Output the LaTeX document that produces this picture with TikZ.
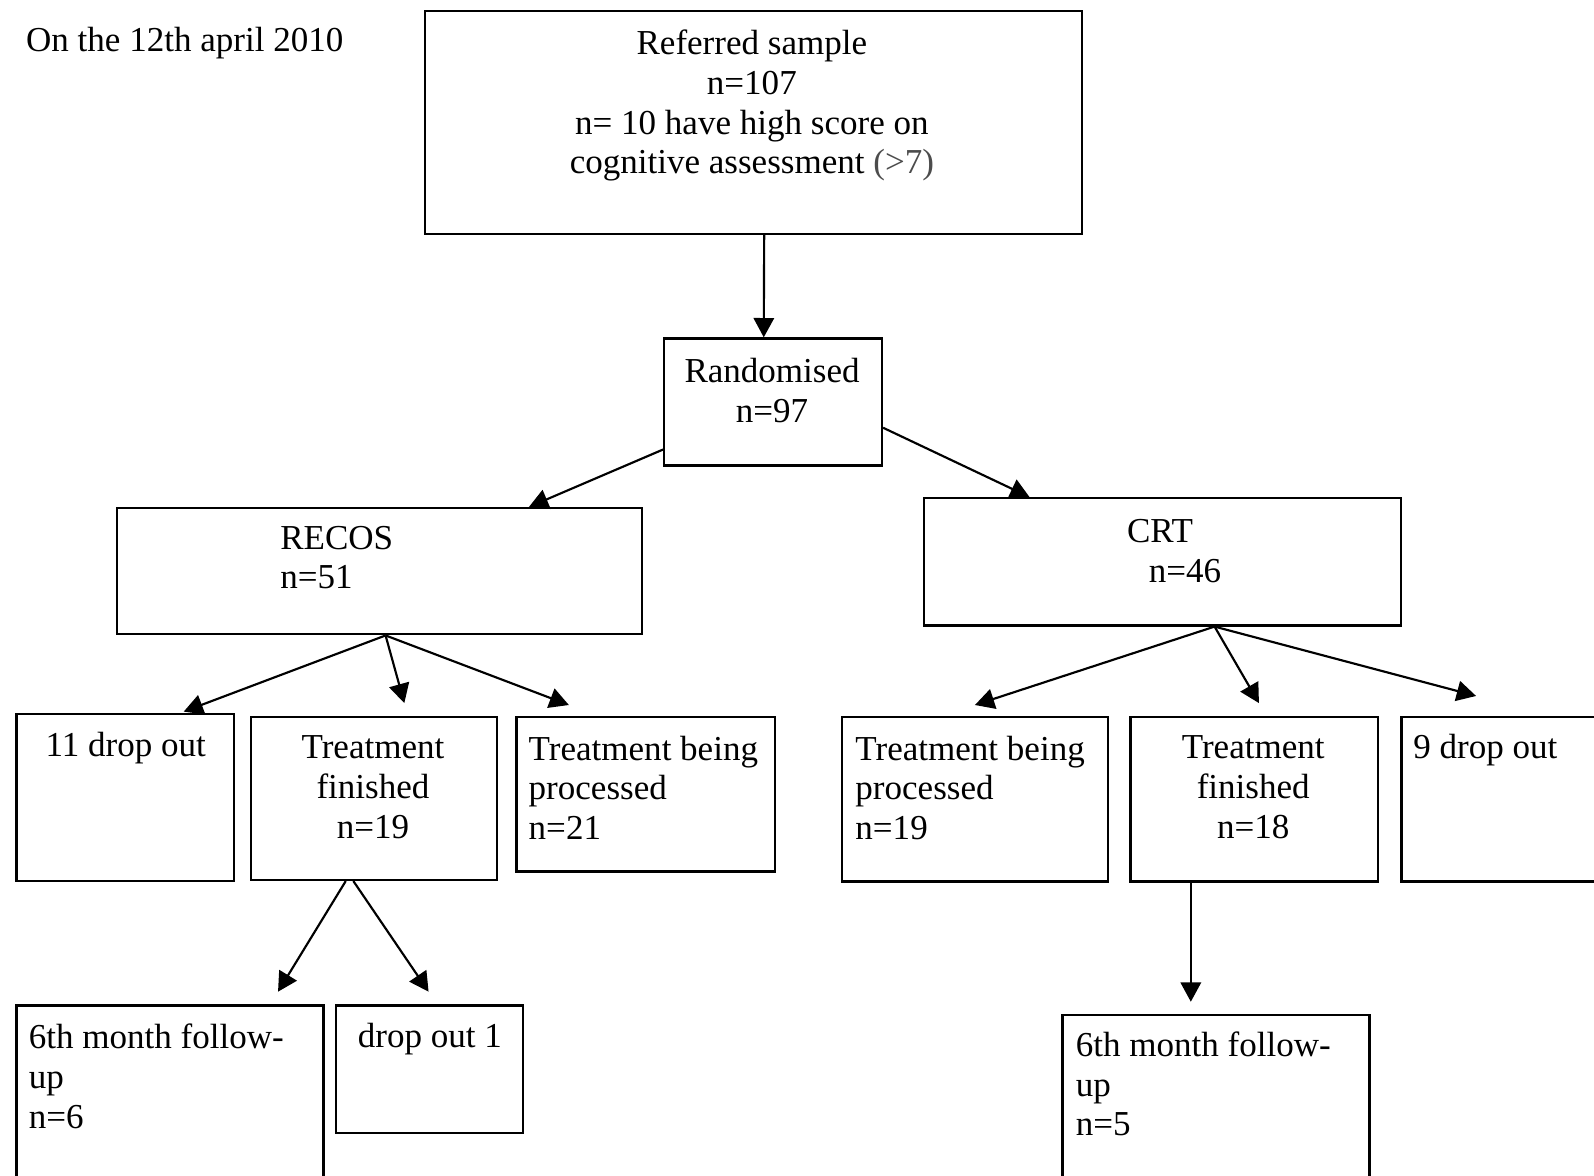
\documentclass[tikz,border=0pt]{standalone}
\usepackage{fontspec}
\setmainfont{Liberation Serif}
\usepackage{tikz}
\usetikzlibrary{arrows.meta, calc}

\begin{document}
\begin{tikzpicture}[x=0.01cm, y=-0.01cm,
        box/.style={draw, line width=0.65pt, anchor=north west, inner sep=0pt},
        txt/.style={inner sep=0pt, font=\fontsize{9.8pt}{11.1pt}\selectfont},
        arr/.style={line width=0.6pt, -{Triangle[length=5.4pt, width=5.7pt]}}]
                    \useasboundingbox (0,0) rectangle (1568,1156);

                    % boxes
                    \node[box, minimum width=6.46cm, minimum height=2.19cm] (ref) at (416.6,9.8) {};
                    \node[box, minimum width=2.14cm, minimum height=1.25cm] (rand) at (652.3,331.8) {};
                    \node[box, minimum width=5.16cm, minimum height=1.24cm] (recos) at (114,498.7) {};
                    \node[box, minimum width=4.69cm, minimum height=1.25cm] (crt) at (907.5,489) {};
                    \node[box, minimum width=2.14cm, minimum height=1.64cm] (drop11) at (15,701.5) {};
                    \node[box, minimum width=2.42cm, minimum height=1.60cm] (finR) at (245.9,704.3) {};
                    \node[box, minimum width=2.54cm, minimum height=1.52cm] (procR) at (506.9,704) {};
                    \node[box, minimum width=2.62cm, minimum height=1.62cm] (procC) at (826.8,704) {};
                    \node[box, minimum width=2.43cm, minimum height=1.62cm] (finC) at (1111,704) {};
                    \node[box, minimum width=2.50cm, minimum height=1.62cm] (drop9) at (1377.6,704) {};
                    \node[box, minimum width=3.02cm, minimum height=2.00cm] (fu6) at (15,988) {};
                    \node[box, minimum width=1.84cm, minimum height=1.25cm] (drop1) at (329.2,988) {};
                    \node[box, minimum width=3.02cm, minimum height=2.00cm] (fu5) at (1044,997.4) {};

                    % texts
                    \node[txt, anchor=base west] (date) at (25,50.8) {On the 12th april 2010};
                    \node[txt, anchor=north, align=center] (refT) at (739.6,29) {Referred sample\\n=107\\n= 10 have high score on\\cognitive assessment {\color{black!70}(>7)}};
                    \node[txt, anchor=north, align=center] (randT) at (759.5,352) {Randomised\\n=97};
                    \node[txt, anchor=north west, align=left] (recosT) at (275,516.6) {RECOS\\n=51};
                    \node[txt, anchor=north west, align=left] (crtT) at (1108,510) {CRT\\\hspace*{6.1pt}n=46};
                    \node[txt, anchor=base west] (drop11T) at (44.2,743.7) {11 drop out};
                    \node[txt, anchor=north, align=center] (finRT) at (366.9,723) {Treatment\\finished\\n=19};
                    \node[txt, anchor=north west, align=left] (procRT) at (519.4,723) {Treatment being\\processed\\n=21};
                    \node[txt, anchor=north west, align=left] (procCT) at (840.8,723) {Treatment being\\processed\\n=19};
                    \node[txt, anchor=north, align=center] (finCT) at (1232.8,723) {Treatment\\finished\\n=18};
                    \node[txt, anchor=base west] (drop9T) at (1389.6,746) {9 drop out};
                    \node[txt, anchor=north west, align=left] (fu6T) at (27.6,1006.7) {6th month follow-\\up\\n=6};
                    \node[txt, anchor=base west] (drop1T) at (351.3,1030) {drop out 1};
                    \node[txt, anchor=north west, align=left] (fu5T) at (1057.5,1014.3) {6th month follow-\\up\\n=5};

                    % arrows
                    \draw[arr] ($(ref.south)+(10.8,0)$) -- ($(rand.north)+(-9.2,0)$);
                    \draw[arr] ($(rand.south west)+(0,-17)$) -- ($(recos.north)+(147,0)$);
                    \draw[arr] ($(rand.south east)+(0,-38.4)$) -- ($(crt.north)+(-130.5,0)$);

                    \coordinate (recosFork) at ($(recos.south)+(6,0)$);
                    \draw[arr] (recosFork) -- ($(drop11.north west)+(165.7,-1.5)$);
                    \draw[arr] (recosFork) -- ($(finR.north)+(29.6,-12.7)$);
                    \draw[arr] (recosFork) -- ($(procR.north west)+(52.7,-10.5)$);

                    \coordinate (crtFork) at ($(crt.south)+(51.5,0)$);
                    \draw[arr] (crtFork) -- ($(procC.north)+(0,-10.5)$);
                    \draw[arr] (crtFork) -- ($(finC.north)+(4.7,-12.4)$);
                    \draw[arr] (crtFork) -- ($(drop9.north west)+(74.4,-19.4)$);

                    \draw[arr] ($(finR.south)+(-28,0)$) -- ($(fu6.north west)+(258.5,-12.5)$);
                    \draw[arr] ($(finR.south)+(-20.5,0)$) -- ($(drop1.north west)+(92.4,-12.5)$);
                    \coordinate (finCout) at ($(finC.south)+(-62.3,0)$);
                    \draw[arr] (finCout) -- ($(finCout |- fu5.north)+(0,-12)$);
                \end{tikzpicture}
\end{document}
